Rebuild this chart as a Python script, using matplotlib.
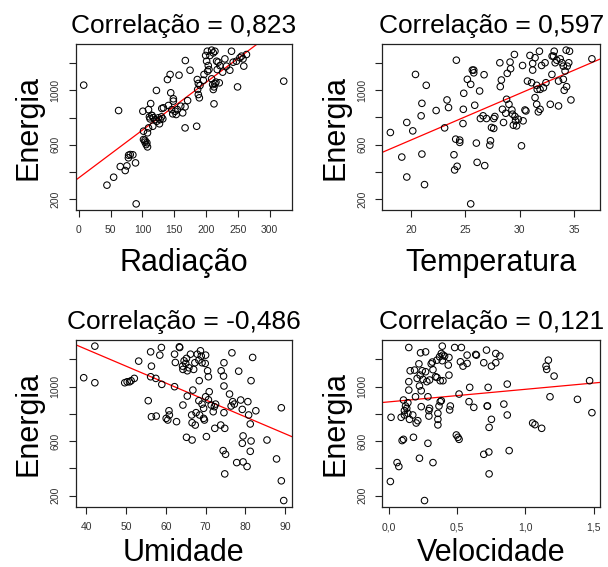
import numpy as np
import matplotlib
matplotlib.use("Agg")
from matplotlib import pyplot as plt

plt.rcParams['font.family'] = ['Liberation Sans', 'DejaVu Sans']

# Radiação x Energia
radiacao = [7.8, 62.6, 44.3, 54.8, 65.2, 73, 75.6, 78, 80.9, 85, 78.3, 89.2, 90.2,
            100.7, 101.7, 101.7, 104, 105.9, 108, 104, 109.6, 113, 111, 114.8, 112,
            117, 109.6, 108, 116.3, 122, 122.6, 126.8, 127.8, 132, 133, 130.4, 139.3,
            143.5, 140.8, 144.5, 148.6, 148.6, 147.6, 151.3, 154.9, 153, 157.5, 160.2,
            163.3, 167, 167.4, 167, 171, 174.8, 185.2, 186.2, 187.8, 186.8, 187.8,
            189.4, 190.4, 195.6, 196.7, 199.3, 200.8, 201.9, 203.4, 202.4, 204.5, 206,
            208.7, 211.3, 213.9, 208.7, 210.3, 211.3, 212.4, 213.9, 215.5, 216.5, 219,
            220.7, 217.5, 221.7, 212.4, 226, 229.5, 232, 237.3, 239.9, 242.5, 247.7,
            249.4, 253, 255.6, 259.2, 258, 263.4, 321.9, 120, 125, 130, 115, 107, 146]
energia_rad = [1037, 851, 305, 363, 441, 412, 446, 505, 529, 527, 524, 468, 168,
               846, 700, 639, 620, 602, 585, 634, 858, 902, 805, 815, 790,
               798, 724, 688, 736, 998, 773, 754, 785, 790, 871, 866, 1078,
               1115, 888, 981, 937, 920, 827, 846, 858, 822, 1110, 883,
               834, 878, 1217, 724, 924, 1146, 736, 1078, 1049, 1005, 968,
               944, 1034, 1073, 1115, 1254, 1212, 1285, 1180, 1139, 1151, 1254,
               1293, 1273, 1285, 1083, 1041, 1005, 1024, 1049, 1059, 1212, 1205,
               1054, 1151, 1180, 900, 1132, 1229, 1176, 1146, 1285, 1205, 1212,
               1024, 1237, 1249, 1176, 1229, 1261, 1066, 785, 798, 805, 815, 615, 858]

# Temperatura x Energia
temperatura = [18.09, 19.14, 19.6, 19.6, 20.15, 20.4, 20.92, 20.99, 20.99, 21.23,
               21.39, 22.3, 23.08, 23.3, 23.44, 23.94, 24, 24.16, 24.23, 24.1, 24.47,
               24.47, 24.84, 24.8, 24.77, 25.17, 25.48, 25.48, 25.63, 25.76, 25.76,
               25.85, 26, 26.07, 26.3, 26.37, 26.62, 26.71, 26.77, 26.93, 27.24, 27.3,
               27.39, 27.6, 27.6, 27.7, 28.16, 28.2, 28.3, 28.4, 28.5, 28.7, 28.78,
               28.84, 29.0, 29.1, 29.15, 29.27, 29.33, 29.4, 29.5, 29.55, 29.6, 29.7,
               29.86, 30.15, 30.25, 30.3, 30.47, 30.56, 30.7, 30.93, 31.08, 31.18,
               31.18, 31.4, 31.4, 31.55, 31.7, 31.8, 31.86, 31.55, 31.6, 31.86, 32,
               32.17, 32.32, 32.4, 32.8, 32.95, 32.97, 33.1, 33.16, 33.25, 33.4, 33.56,
               33.56, 33.71, 33.87, 34.0, 34.08, 34.0, 34.16, 34.26, 34.3, 34.36,
               34.57, 34.7, 36.63, 34.5]
energia_temp = [689, 508, 763, 361, 701, 1117, 812, 904, 530, 305,
                1037, 851, 723, 929, 873, 525, 413, 1222, 440, 640, 616,
                633, 978, 860, 755, 1081, 163, 1044, 1149, 1149, 1129,
                890, 611, 469, 995, 792, 812, 1115, 445, 792, 596, 628,
                726, 719, 792, 807, 1203, 1027, 1076, 860, 763, 831, 934,
                1125, 897, 1208, 1159, 855, 824, 743, 1264, 807, 775, 738,
                787, 591, 1183, 775, 855, 848, 1068, 1257, 1056, 1198,
                1149, 1240, 946, 897, 841, 1288, 860, 1037, 1007, 1007, 1183,
                1019, 1203, 1056, 897, 1117, 1252, 1252, 1288, 1203, 1222, 885,
                1068, 1232, 1203, 1178, 1000, 1081, 1142, 1296, 1027, 1178,
                1288, 929, 1232, 1203]

# Umidade x Energia
umidade = [39.4, 42.2, 42.2, 49.7, 50.3, 50.9, 51.3, 52.1, 53.2, 55.6, 56.2, 56.4,
           56.2, 56.4, 57.6, 57.5, 58.5, 58.9, 59, 60.1, 60.5, 60.8, 60.9, 62.2, 62.4,
           62.2, 62.7, 63.4, 63.5, 64.2, 64.3, 64.3, 64.6, 65, 65.2, 65.4, 65.2, 65.4,
           65.8, 66.2, 66.5, 66.6, 66.6, 66.8, 67, 67.3, 67.4, 67.6, 67.9, 68.3, 68.3,
           68.4, 68.5, 68.7, 68.9, 69.1, 69.1, 69.5, 69.5, 69.7, 70.0, 69.9, 70.0,
           70.2, 70.5, 70.7, 70.9, 70.7, 71.4, 71.9, 72.2, 72.3, 72.5, 73.8, 73.9,
           74.5, 74.6, 74.6, 74.6, 74.8, 74.4, 75, 74.8, 76, 76.4, 76.6, 76.8, 77.2,
           77.8, 78.3, 78.8, 79.2, 79.2, 79.4, 79.4, 80.4, 80.6, 80.8, 81.2, 81.4,
           81.2, 81.4, 81.8, 82.6, 85.4, 87.8, 89, 89, 89.6]
energia_umid = [1066, 1298, 1029, 1029, 1036, 1036, 1044, 1061, 1188, 897, 1256, 1151,
                1073, 779, 784, 1061, 1232, 1288, 1017, 767, 755, 823, 792, 1239, 1178,
                1000, 743, 1293, 1288, 1151, 1127, 865, 1190, 1171, 1208, 1117, 628, 931,
                1139, 1239, 792, 608, 735, 975, 1127, 1176, 718, 809, 1239, 1195, 897,
                1044, 792, 1264, 1225, 1176, 872, 841, 767, 755, 1232, 1171, 926,
                633, 1117, 1073, 963, 904, 865, 816, 853, 694, 872, 718, 1117,
                1078, 1176, 1005, 809, 694, 530, 503, 359, 946, 858, 1249, 890, 872,
                442, 1114, 902, 833, 584, 638, 447, 413, 890, 792, 726, 1044,
                525, 601, 1215, 823, 608, 469, 845, 308, 163]

# Velocidade x Energia
velocidade = [0.012, 0.061, 0.074, 0.017, 0.091, 0.098, 0.108, 0.108, 0.115, 0.115,
              0.123, 0.132, 0.140, 0.140, 0.147, 0.147, 0.147, 0.152, 0.157, 0.176,
              0.181, 0.189, 0.196, 0.201, 0.208, 0.213, 0.221, 0.225, 0.225, 0.230,
              0.233, 0.238, 0.238, 0.245, 0.250, 0.262, 0.270, 0.270, 0.279, 0.287,
              0.287, 0.294, 0.294, 0.299, 0.299, 0.311, 0.319, 0.324, 0.324, 0.343,
              0.353, 0.353, 0.360, 0.360, 0.360, 0.368, 0.372, 0.377, 0.377, 0.385,
              0.385, 0.392, 0.392, 0.397, 0.397, 0.409, 0.436, 0.441, 0.441, 0.446,
              0.451, 0.483, 0.495, 0.507, 0.515, 0.515, 0.525, 0.532, 0.544, 0.574,
              0.574, 0.588, 0.593, 0.623, 0.637, 0.642, 0.696, 0.696, 0.716, 0.721,
              0.723, 0.728, 0.733, 0.735, 0.735, 0.752, 0.752, 0.784, 0.784, 0.814,
              0.843, 0.868, 0.868, 0.882, 1.054, 1.071, 1.120, 1.152, 1.157, 1.169,
              1.181, 1.211, 1.382, 1.471, 1.488]
energia_vel = [303, 442, 413, 775, 775, 604, 613, 902, 824, 792,
               858, 841, 882, 804, 1288, 1037, 975, 760, 1117, 792,
               628, 1122, 926, 733, 1061, 750, 1168, 1005, 474, 1085,
               1249, 970, 853, 1117, 1054, 163, 1256, 1110, 1037, 584,
               926, 824, 784, 841, 1049, 1168, 1181, 1125, 442, 1073,
               1195, 1068, 804, 760, 719, 858, 1220, 1044, 890, 1244,
               897, 1298, 1191, 1232, 1044, 1225, 1159, 1215, 1085, 829,
               858, 1288, 645, 628, 613, 946, 1183, 1288, 1151, 1232,
               1171, 890, 995, 848, 1237, 1232, 1176, 503, 1269, 858,
               858, 995, 520, 359, 701, 1151, 760, 1176, 1244, 1225,
               872, 1019, 792, 530, 733, 721, 694, 1151, 1127, 1195,
               926, 1078, 907, 1044, 809]

titulos = ["Correlação = 0,823", "Correlação = 0,597",
           "Correlação = -0,486", "Correlação = 0,121"]
rotulos_x = ["Radiação", "Temperatura", "Umidade", "Velocidade"]
ticks_x = [[0, 50, 100, 150, 200, 250, 300], [20, 25, 30, 35],
           [40, 50, 60, 70, 80, 90], [0.0, 0.5, 1.0, 1.5]]
ticklabels_x = [["0", "50", "100", "150", "200", "250", "300"],
                ["20", "25", "30", "35"],
                ["40", "50", "60", "70", "80", "90"],
                ["0,0", "0,5", "1,0", "1,5"]]
ticks_y = [200, 400, 600, 800, 1000, 1200]
ticklabels_y = ["200", "", "600", "", "1000", ""]


# R style axis limits: data range extended by 4% on each side.
def RLim(v):
    v = np.asarray(v, dtype=float)
    r = v.max() - v.min()
    return v.min() - 0.04*r, v.max() + 0.04*r


fig = plt.figure(figsize=(6.08, 5.67), dpi=100)

# Axes rectangles in figure fractions (left, bottom, width, height).
posicoes = [[0.1245, 0.6296, 0.3553, 0.2928],
            [0.6288, 0.6296, 0.3580, 0.2928],
            [0.1245, 0.1063, 0.3553, 0.2941],
            [0.6288, 0.1063, 0.3580, 0.2941]]

# Bottom row labels sit a little closer to the axes so they fit the figure.
pads_x = [9, 9, 4, 4]

dados = [(radiacao, energia_rad), (temperatura, energia_temp),
         (umidade, energia_umid), (velocidade, energia_vel)]

for k in range(4):
    x = np.asarray(dados[k][0], dtype=float)
    y = np.asarray(dados[k][1], dtype=float)

    ax = fig.add_axes(posicoes[k])
    ax.scatter(x, y, s=22, facecolors='none', edgecolors='black', linewidths=0.75, zorder=3)

    xl = RLim(x)
    yl = RLim(y)

    # Least squares line across the whole plotting region.
    b, a = np.polyfit(x, y, 1)
    xs = np.array(xl)
    ax.plot(xs, a + b*xs, color='red', linewidth=0.9, zorder=2)

    ax.set_xlim(xl)
    ax.set_ylim(yl)

    ax.set_xticks(ticks_x[k])
    ax.set_xticklabels(ticklabels_x[k])
    ax.set_yticks(ticks_y)
    ax.set_yticklabels(ticklabels_y, rotation=90, va='center')

    ax.tick_params(direction='out', length=5, width=0.8, colors='#222222',
                   labelsize=7.5, labelcolor='#333333', pad=6)

    for s in ax.spines.values():
        s.set_linewidth(0.9)
        s.set_color('#222222')

    ax.set_title(titulos[k], fontsize=19, pad=8)
    ax.set_xlabel(rotulos_x[k], fontsize=22, labelpad=pads_x[k])
    ax.set_ylabel("Energia", fontsize=22, labelpad=5)

fig.savefig("out.png", dpi=100)
